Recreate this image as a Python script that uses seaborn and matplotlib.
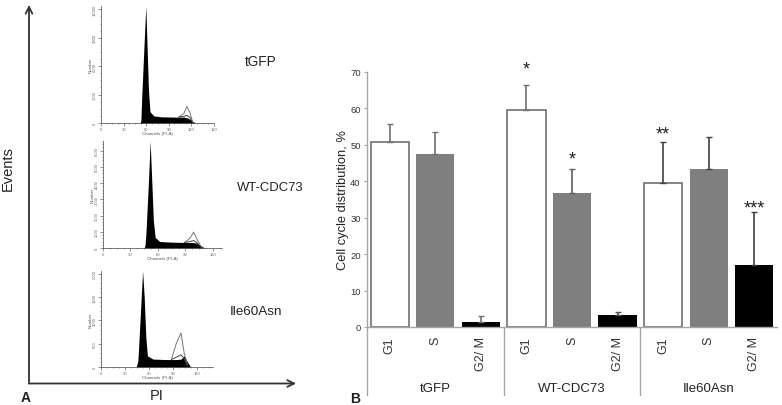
import matplotlib
matplotlib.use("Agg")
import matplotlib.pyplot as plt
import seaborn as sns

sns.set_theme(style="white")
plt.rcParams['font.family'] = ['Liberation Sans', 'DejaVu Sans']

W, H = 782, 406

# panel B values
bar_labels = ["G1", "S", "G2/ M", "G1", "S", "G2/ M", "G1", "S", "G2/ M"]
bar_ids = ["t1", "t2", "t3", "w1", "w2", "w3", "i1", "i2", "i3"]
phases = ["G1", "S", "G2", "G1", "S", "G2", "G1", "S", "G2"]
means = [50.8, 47.6, 1.5, 59.7, 36.7, 3.4, 39.5, 43.4, 17.0]
errs = [5.0, 6.0, 1.5, 6.7, 6.8, 0.7, 11.3, 8.8, 14.5]
err_colors = ["#707070", "#707070", "#707070", "#707070", "#606060", "#505050", "#404040", "#404040", "#404040"]
groups = ["tGFP", "WT-CDC73", "Ile60Asn"]
stars = ["*", "*", "**", "***"]
star_bars = [3, 4, 6, 8]
star_vals = [70.7, 46.2, 53.0, 32.7]
yticks_b = [0, 10, 20, 30, 40, 50, 60, 70]

# panel A histograms, channel vs. count
hist_names = ["tGFP", "WT-CDC73", "Ile60Asn"]
hist_x = [
    [0, 52, 53, 54, 57, 59.5, 61, 63, 65, 70, 80, 100, 110, 116, 122, 126, 150],
    [0, 45, 46, 47, 50, 51.5, 53, 55, 57, 62, 75, 90, 97, 103, 108, 111, 130],
    [0, 44, 46, 47, 50, 52, 54, 56, 58, 65, 80, 95, 100, 104, 108, 112, 140],
]
hist_y = [
    [0, 0, 300, 2600, 8000, 12350, 8500, 3500, 1200, 750, 650, 620, 620, 500, 150, 0, 0],
    [0, 0, 200, 1000, 4500, 6600, 4500, 1700, 650, 400, 360, 340, 340, 300, 100, 0, 0],
    [0, 0, 120, 400, 1400, 2060, 1500, 650, 240, 170, 160, 160, 170, 240, 110, 0, 0],
]
g2_x = [
    [103, 110, 114, 118, 122],
    [89, 95, 99, 103, 108],
    [88, 94, 100, 104, 108],
]
g2_y = [
    [620, 1000, 1750, 1100, 0],
    [340, 600, 980, 500, 0],
    [160, 500, 730, 300, 40],
]
g2b_y = [
    [620, 700, 800, 600, 0],
    [340, 400, 460, 300, 0],
    [160, 210, 260, 180, 40],
]
hist_xticks = [[0, 30, 60, 90, 120, 150], [0, 30, 60, 90, 120], [0, 30, 60, 90, 120]]
hist_yticks = [[0, 3000, 6000, 9000, 12000],
               [0, 1000, 2000, 3000, 4000, 5000, 6000],
               [0, 500, 1000, 1500, 2000]]
hist_xlabels = ["Channels (PI-A)", "Channels (PI-A)", "Channels (PI-A)"]


def px_axes(fig, left, top, right, bottom):
    return fig.add_axes([left / W, 1 - bottom / H, (right - left) / W, (bottom - top) / H])


def draw_hist(fig, i, box, xlim, ylim):
    ax = px_axes(fig, *box)
    ax.patch.set_alpha(0)
    ax.fill_between(hist_x[i], hist_y[i], color="black", lw=0)
    for ys, lc in ((g2_y[i], "#777777"), (g2b_y[i], "#444444")):
        sns.lineplot(x=g2_x[i], y=ys, color=lc, lw=0.7, ax=ax, estimator=None, sort=False)
    ax.set_xlim(*xlim)
    ax.set_ylim(*ylim)
    ax.set_xticks(hist_xticks[i])
    ax.set_yticks(hist_yticks[i])
    ax.minorticks_on()
    ax.tick_params(which="major", bottom=True, left=True, length=2, width=0.5, pad=0.8, labelsize=3, colors="#666666")
    ax.tick_params(which="minor", bottom=True, left=True, length=1, width=0.4, colors="#555555")
    plt.setp(ax.get_yticklabels(), rotation=90, va="center")
    ax.set_xlabel(hist_xlabels[i], fontsize=3.2, labelpad=0.3, color="#555555")
    ax.set_ylabel("Number", fontsize=3.2, labelpad=0.6, color="#555555")
    sns.despine(ax=ax)
    for s in ("left", "bottom"):
        ax.spines[s].set_linewidth(0.5)
        ax.spines[s].set_color("#444444")


def main():
    fig = plt.figure(figsize=(W / 100, H / 100), dpi=100)
    fig.patch.set_facecolor("white")

    # panel A frame
    arrow = dict(arrowstyle="->", color="#333333", lw=1.3, mutation_scale=12, shrinkA=0, shrinkB=0)
    fig.add_artist(matplotlib.patches.FancyArrowPatch((29 / W, 1 - 384.5 / H), (29 / W, 1 - 6 / H),
                                                      transform=fig.transFigure, **arrow))
    fig.add_artist(matplotlib.patches.FancyArrowPatch((29 / W, 1 - 384.5 / H), (296 / W, 1 - 384.5 / H),
                                                      transform=fig.transFigure, **arrow))
    fig.text(8 / W, 1 - 168.5 / H, "Events", rotation=90, ha="center", va="center", fontsize=10.5, color="#222222")
    fig.text(157 / W, 1 - 396 / H, "PI", ha="center", va="center", fontsize=10.5, color="#222222")
    fig.text(26 / W, 1 - 398 / H, "A", ha="center", va="center", fontsize=10, fontweight="bold", color="#222222")
    fig.text(355 / W, 1 - 399 / H, "B", ha="center", va="center", fontsize=10, fontweight="bold", color="#222222")

    draw_hist(fig, 0, (101, 7, 214, 124), (0, 150), (0, 12350))
    draw_hist(fig, 1, (103, 142, 222, 249), (0, 130), (0, 6600))
    draw_hist(fig, 2, (101, 272, 213, 368), (0, 140), (0, 2060))

    fig.text(260.5 / W, 1 - 62 / H, hist_names[0], ha="center", va="center", fontsize=9.8, color="#222222")
    fig.text(270 / W, 1 - 188 / H, hist_names[1], ha="center", va="center", fontsize=9.4, color="#222222")
    fig.text(256 / W, 1 - 312 / H, hist_names[2], ha="center", va="center", fontsize=9.7, color="#222222")

    # panel B bars
    ax = px_axes(fig, 367, 73, 777, 328)
    ax.patch.set_alpha(0)
    sns.barplot(x=bar_ids, y=means, hue=phases, dodge=False, width=0.84, legend=False, ax=ax,
                palette={"G1": "white", "S": "#7f7f7f", "G2": "black"}, saturation=1)
    # hue groups the patches, so pick the white bars by colour
    for p in ax.patches:
        if p.get_facecolor()[:3] == (1.0, 1.0, 1.0):
            p.set_edgecolor("#6f6f6f")
            p.set_linewidth(1.2)
        else:
            p.set_edgecolor("none")
    for i, (m, e, c) in enumerate(zip(means, errs, err_colors)):
        ax.errorbar(i, m, yerr=[[0], [e]], color=c, elinewidth=1.2, capsize=2.2, capthick=1.0, zorder=1)
    ax.set_xlim(-0.5, 8.5)
    ax.set_ylim(0, 70)
    ax.set_yticks(yticks_b)
    ax.tick_params(axis="y", left=True, length=2.5, width=0.8, color="#a6a6a6", labelsize=6.8, labelcolor="#333333", pad=2)
    ax.set_xticks(range(9))
    ax.set_xticklabels(bar_labels, rotation=90, fontsize=9, color="#333333", va="top")
    ax.tick_params(axis="x", bottom=False, pad=0.5)
    ax.set_xlabel("")
    ax.set_ylabel("Cell cycle distribution, %", fontsize=9.3, color="#222222", labelpad=0.5)
    sns.despine(ax=ax)
    for s in ("left", "bottom"):
        ax.spines[s].set_color("#a6a6a6")
        ax.spines[s].set_linewidth(1.0)

    # group separators under the axis
    trans = ax.get_xaxis_transform()
    for x in (-0.5, 2.5, 5.5):
        ax.plot([x, x], [0, -68 / 255], transform=trans, color="#a6a6a6", lw=1.0, clip_on=False)
    for k, name in enumerate(groups):
        ax.text(3 * k + 1, -61 / 255, name, transform=trans, ha="center", va="center", fontsize=9.5, color="#222222")

    for s, b, v in zip(stars, star_bars, star_vals):
        ax.text(b, v, s, ha="center", va="center", fontsize=13, color="#222222", clip_on=False)

    fig.savefig("out.png", dpi=100)
    plt.close(fig)


if __name__ == "__main__":
    main()
